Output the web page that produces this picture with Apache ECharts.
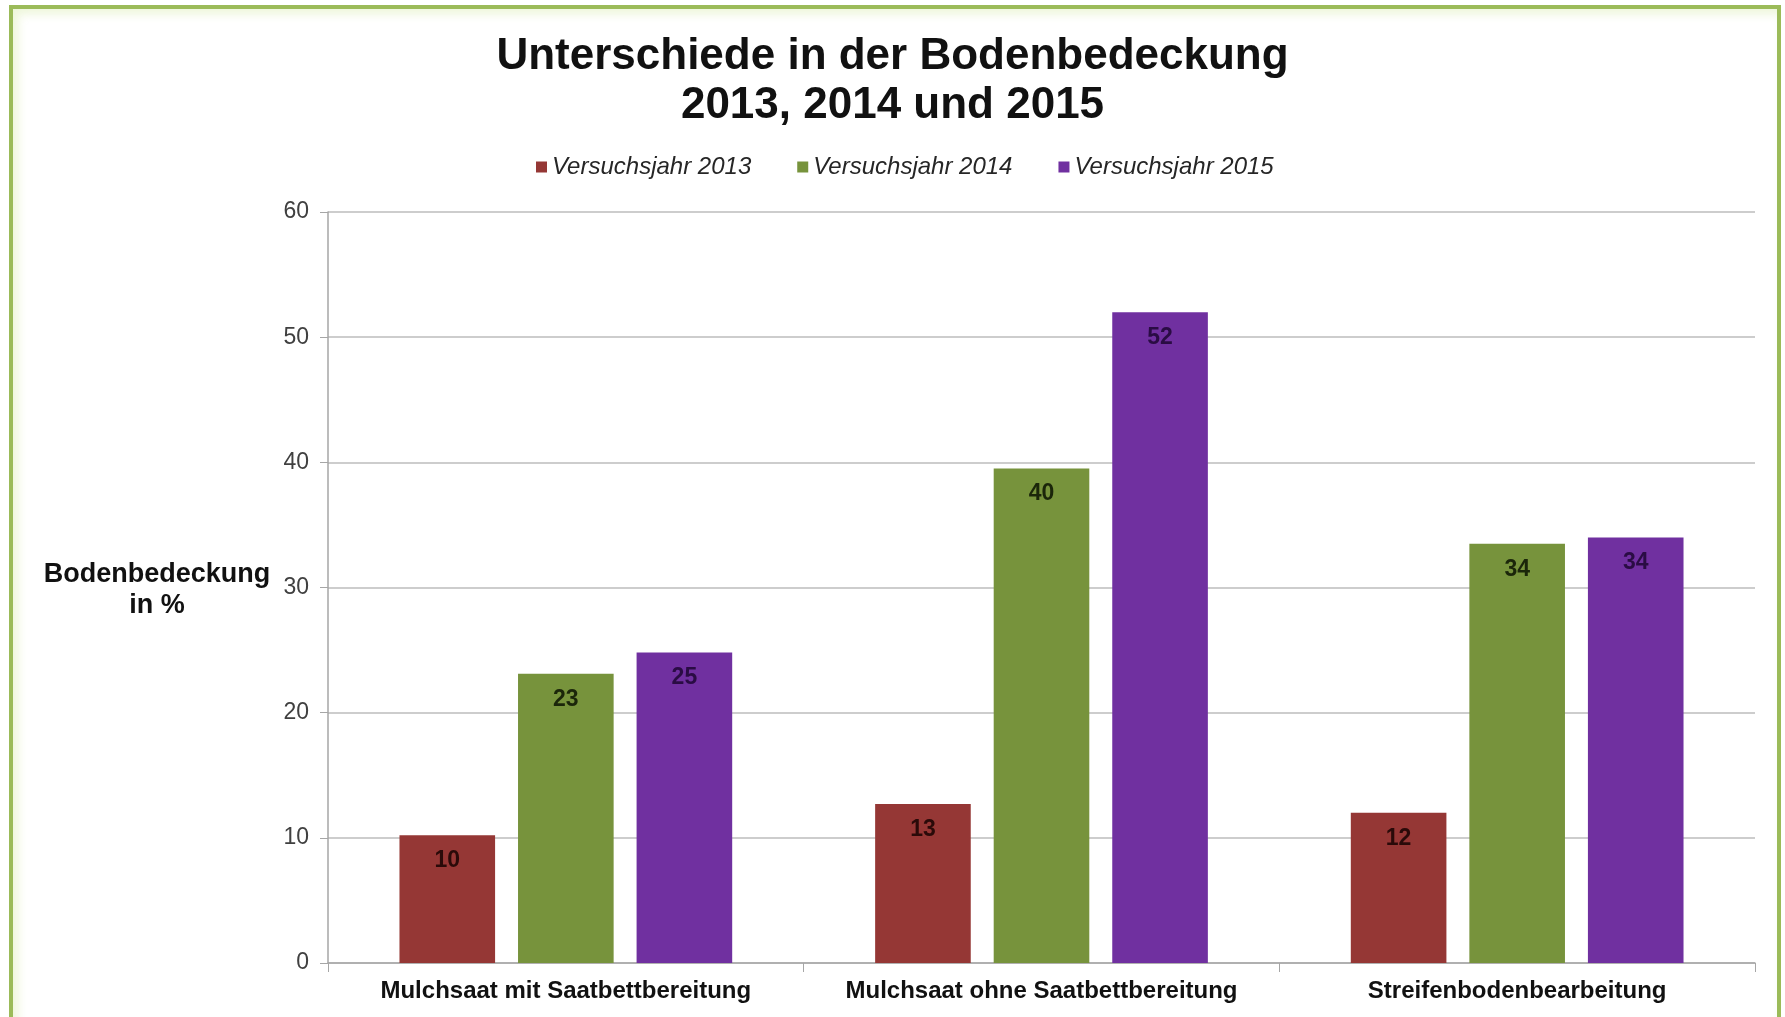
<!DOCTYPE html>
<html>
<head>
<meta charset="utf-8">
<script src="https://cdn.jsdelivr.net/npm/echarts@6/dist/echarts.min.js"></script>
<style>
  html, body { margin: 0; padding: 0; background: #ffffff; }
  #frame { position: absolute; left: 9px; top: 5px; width: 1764px; height: 1040px;
           border-left: 4px solid #9bbb59; border-top: 4px solid #9bbb59; border-right: 4px solid #9bbb59;
           box-shadow: inset 5px 5px 10px rgba(215,235,170,0.45); }
  #chart { position: absolute; left: 0; top: 0; width: 1785px; height: 1017px; }
</style>
</head>
<body>
<div id="frame"></div>
<div id="chart"></div>
<script>
const categories = ['Mulchsaat mit Saatbettbereitung', 'Mulchsaat ohne Saatbettbereitung', 'Streifenbodenbearbeitung'];
const seriesNames = ['Versuchsjahr 2013', 'Versuchsjahr 2014', 'Versuchsjahr 2015'];
const values2013 = [10.2, 12.7, 12.0];
const values2014 = [23.1, 39.5, 33.5];
const values2015 = [24.8, 52.0, 34.0];
const yTicks = [0, 10, 20, 30, 40, 50, 60];

const colors = ['#953735', '#77933c', '#7030a0'];
const labelColors = ['#2a0a09', '#1b260a', '#2a0c44'];
const allValues = [values2013, values2014, values2015];

const chart = echarts.init(document.getElementById('chart'), null, { renderer: 'canvas' });
const FONT = '"Liberation Sans", Arial, sans-serif';

const option = {
  backgroundColor: 'transparent',
  animation: false,
  title: {
    text: 'Unterschiede in der Bodenbedeckung\n2013, 2014 und 2015',
    left: 'center',
    top: 27,
    textStyle: { fontFamily: FONT, fontSize: 44, fontWeight: 'bold', color: '#111', lineHeight: 49 }
  },
  legend: {
    data: seriesNames,
    left: 531,
    top: 150,
    itemWidth: 11,
    itemHeight: 11,
    itemGap: 46,
    icon: 'rect',
    textStyle: { fontFamily: FONT, fontSize: 24, fontStyle: 'italic', color: '#262626' }
  },
  grid: { left: 328, right: 30, top: 212, bottom: 54, containLabel: false },
  xAxis: {
    type: 'category',
    data: categories,
    axisLine: { show: true, lineStyle: { color: '#a6a6a6', width: 1.5 } },
    axisTick: { show: true, length: 9, lineStyle: { color: '#a6a6a6' } },
    axisLabel: { interval: 0, fontFamily: FONT, fontSize: 24, fontWeight: 'bold', color: '#111', margin: 16 }
  },
  yAxis: {
    type: 'value',
    min: yTicks[0],
    max: yTicks[yTicks.length - 1],
    interval: yTicks[1] - yTicks[0],
    axisLine: { show: true, lineStyle: { color: '#a6a6a6', width: 1.5 } },
    axisTick: { show: true, length: 8, lineStyle: { color: '#a6a6a6' } },
    axisLabel: { fontFamily: FONT, fontSize: 23, color: '#404040', margin: 19 },
    splitLine: { show: true, lineStyle: { color: '#bcbcbc', width: 1.5 } }
  },
  graphic: [{
    type: 'text',
    x: 157,
    y: 559,
    style: {
      text: 'Bodenbedeckung\nin %',
      align: 'center',
      verticalAlign: 'top',
      font: 'bold 27px ' + FONT,
      fill: '#111',
      lineHeight: 31
    }
  }],
  series: allValues.map((vals, i) => ({
    name: seriesNames[i],
    type: 'bar',
    data: vals,
    barWidth: '20.1%',
    barGap: '24%',
    itemStyle: { color: colors[i] },
    label: {
      show: true,
      position: 'insideTop',
      distance: 14,
      formatter: p => Math.round(p.value),
      fontFamily: FONT,
      fontSize: 23,
      fontWeight: 'bold',
      color: labelColors[i]
    }
  }))
};
chart.setOption(option);
</script>
</body>
</html>
